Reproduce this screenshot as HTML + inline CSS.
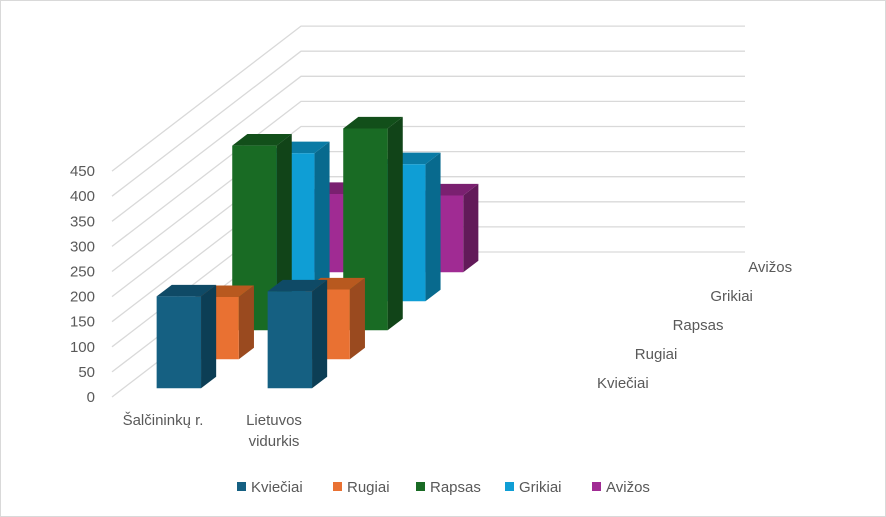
<!DOCTYPE html>
<html><head><meta charset="utf-8"><style>
body{margin:0;background:#fff;}
svg{display:block;font-family:"Liberation Sans",sans-serif;}
</style></head><body>
<svg id="c" width="886" height="517">
<rect x="0.5" y="0.5" width="885" height="516" fill="#fff" stroke="#d9d9d9"/>
<g id="grid"></g><g id="bars"></g><g id="labels"></g><g id="legend"></g>
</svg>
<script>
const categories = ["Šalčininkų r.", "Lietuvos vidurkis"];
const seriesNames = ["Kviečiai", "Rugiai", "Rapsas", "Grikiai", "Avižos"];
const kvieciai = [183, 193];
const rugiai = [124, 139];
const rapsas = [368, 402];
const grikiai = [295, 273];
const avizos = [156, 153];
const yTicks = [0, 50, 100, 150, 200, 250, 300, 350, 400, 450];
const values = [kvieciai, rugiai, rapsas, grikiai, avizos];
const front = ["#156082","#e97132","#196b24","#0f9ed5","#a02b93"];
const side = ["#0c3e55","#9a4a1f","#114418","#086a8e","#621a59"];
const top_ = ["#0f4a66","#b8591f","#124f1a","#0a7ba5","#7a2070"];
const NS="http://www.w3.org/2000/svg";
const ox=112, oy=397, ddx=37.8, ddy=-29, catW=111, scale=0.502;
function P(c,d,v){return [ox+c*catW+d*ddx, oy+d*ddy - v*scale];}
function mk(tag,attrs,parent){const e=document.createElementNS(NS,tag);for(const k in attrs)e.setAttribute(k,attrs[k]);parent.appendChild(e);return e;}
const grid=document.getElementById('grid'), bars=document.getElementById('bars'), labels=document.getElementById('labels'), legend=document.getElementById('legend');
yTicks.forEach(t=>{
  const a=P(0,0,t), b=P(0,5,t), c=P(4,5,t);
  const l=mk('polyline',{points:`${a[0]},${a[1]} ${b[0]},${b[1]} ${c[0]},${c[1]}`,fill:'none',stroke:'#d9d9d9','stroke-width':1.3},grid);
  
  
  const tx=mk('text',{x:95,y:a[1]+5,'text-anchor':'end','font-size':15,fill:'#595959'},labels);
  tx.textContent=t;
  
  
});
for(let s=4;s>=0;s--){
  for(let c=categories.length-1;c>=0;c--){
    const v=values[s][c];
    const x0=c+0.3, x1=c+0.7, d0=s+0.3, d1=s+0.7;
    const g=mk('g',{},bars);
    
    
    const pts=a=>a.map(p=>p.join(',')).join(' ');
    mk('polygon',{points:pts([P(x1,d0,0),P(x1,d1,0),P(x1,d1,v),P(x1,d0,v)]),fill:side[s]},g);
    mk('polygon',{points:pts([P(x0,d0,v),P(x1,d0,v),P(x1,d1,v),P(x0,d1,v)]),fill:top_[s]},g);
    mk('polygon',{points:pts([P(x0,d0,0),P(x1,d0,0),P(x1,d0,v),P(x0,d0,v)]),fill:front[s]},g);
  }
}
// category labels
[[163,420,["Šalčininkų r."]],[274,420,["Lietuvos","vidurkis"]]].forEach((cl,i)=>{
  cl[2].forEach((line,j)=>{
    const t=mk('text',{x:cl[0],y:cl[1]+j*21+5,'text-anchor':'middle','font-size':15,fill:'#595959'},labels);
    t.textContent=line;
    
    
  });
});
// depth labels
seriesNames.forEach((n,s)=>{
  const t=mk('text',{x:597+s*ddx,y:388+s*ddy,'font-size':15,fill:'#595959'},labels);
  t.textContent=n;
  
  
});
// legend
const lx=[237,333,416,505,592];
seriesNames.forEach((n,s)=>{
  const g=mk('g',{},legend);
  
  
  mk('rect',{x:lx[s],y:482,width:9,height:9,fill:front[s]},g);
  const t=mk('text',{x:lx[s]+14,y:492,'font-size':15,fill:'#595959'},g);
  t.textContent=n;
});
</script>
</body></html>
